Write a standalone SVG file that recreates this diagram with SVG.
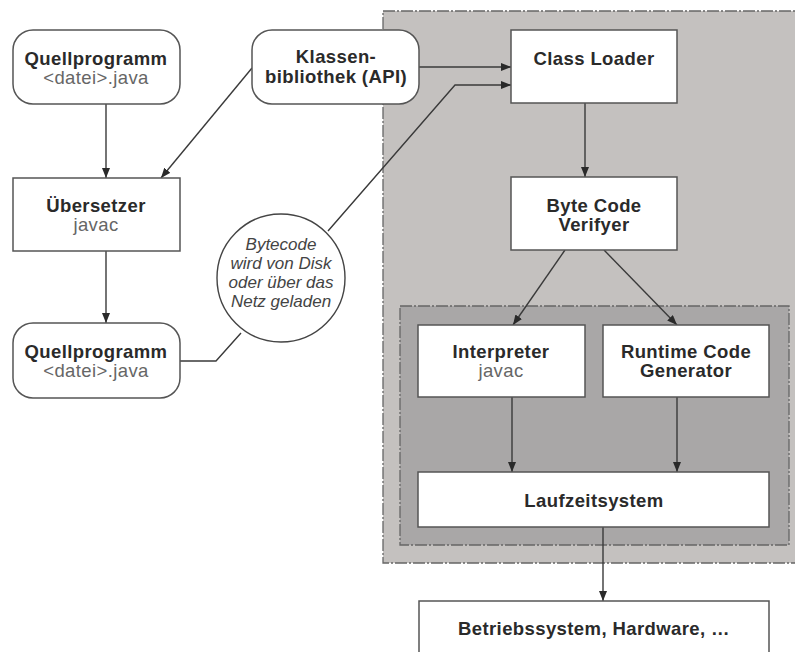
<svg xmlns="http://www.w3.org/2000/svg" width="795" height="652" viewBox="0 0 795 652">
<defs>
<style>
.box{fill:#fff;stroke:#555;stroke-width:1.5}
.b{font-family:"Liberation Sans",Arial,sans-serif;font-weight:bold;font-size:18.5px;letter-spacing:0.4px;fill:#2a2a2a;text-anchor:middle}
.r{font-family:"Liberation Sans",Arial,sans-serif;font-size:18.5px;letter-spacing:0.4px;fill:#666;text-anchor:middle}
.i{font-family:"Liberation Sans",Arial,sans-serif;font-style:italic;font-size:17px;fill:#444;text-anchor:middle}
.c{fill:none;stroke:#3a3a3a;stroke-width:1.4}
.reg{stroke:#666;stroke-width:1.3;stroke-dasharray:12 2 2 2}
</style>
<marker id="ah" viewBox="0 0 10 8" refX="10" refY="4" markerWidth="10" markerHeight="8" markerUnits="userSpaceOnUse" orient="auto">
<path d="M0,0 L10,4 L0,8 z" fill="#2a2a2a"/>
</marker>
</defs>
<rect width="795" height="652" fill="#fff"/>
<g id="jvm-region">
<rect x="383" y="11" width="420" height="552" fill="#c4c1bf" class="reg"/>
</g>
<g id="exec-region">
<rect x="400" y="306" width="389" height="239" fill="#a9a7a7" class="reg"/>
</g>
<g id="connectors">
<line class="c" x1="106" y1="104" x2="106" y2="178" marker-end="url(#ah)"/>
<line class="c" x1="106" y1="251" x2="106" y2="323" marker-end="url(#ah)"/>
<line class="c" x1="252" y1="68" x2="161" y2="178" marker-end="url(#ah)"/>
<line class="c" x1="419" y1="67" x2="511" y2="67" marker-end="url(#ah)"/>
<polyline class="c" points="180,361 216,361 241,333"/>
<polyline class="c" points="328,231 455,85 511,85" marker-end="url(#ah)"/>
<line class="c" x1="585" y1="103" x2="585" y2="177" marker-end="url(#ah)"/>
<line class="c" x1="565" y1="250" x2="513" y2="325" marker-end="url(#ah)"/>
<line class="c" x1="604" y1="250" x2="677" y2="325" marker-end="url(#ah)"/>
<line class="c" x1="512" y1="397" x2="512" y2="472" marker-end="url(#ah)"/>
<line class="c" x1="677" y1="397" x2="677" y2="472" marker-end="url(#ah)"/>
<line class="c" x1="603" y1="527" x2="603" y2="601" marker-end="url(#ah)"/>
</g>
<g id="quellprogramm1">
<rect class="box" x="13" y="30" width="167" height="74" rx="20"/>
<text class="b" x="96" y="65">Quellprogramm</text>
<text class="r" x="96" y="84">&lt;datei&gt;.java</text>
</g>
<g id="uebersetzer">
<rect class="box" x="13" y="178" width="167" height="73"/>
<text class="b" x="96" y="212">Übersetzer</text>
<text class="r" x="96" y="231">javac</text>
</g>
<g id="quellprogramm2">
<rect class="box" x="13" y="323" width="167" height="75" rx="20"/>
<text class="b" x="96" y="358">Quellprogramm</text>
<text class="r" x="96" y="377">&lt;datei&gt;.java</text>
</g>
<g id="klassenbibliothek">
<rect class="box" x="252" y="30" width="167" height="74" rx="20"/>
<text class="b" x="336" y="63">Klassen-</text>
<text class="b" x="336" y="83">bibliothek (API)</text>
</g>
<g id="bytecode-note">
<circle cx="281" cy="278" r="64" fill="#fff" stroke="#444" stroke-width="1.4"/>
<text class="i" x="281" y="250">Bytecode</text>
<text class="i" x="281" y="269">wird von Disk</text>
<text class="i" x="281" y="288">oder über das</text>
<text class="i" x="281" y="307">Netz geladen</text>
</g>
<g id="class-loader">
<rect class="box" x="511" y="30" width="166" height="73"/>
<text class="b" x="594" y="65">Class Loader</text>
</g>
<g id="byte-code-verifyer">
<rect class="box" x="511" y="177" width="166" height="73"/>
<text class="b" x="594" y="212">Byte Code</text>
<text class="b" x="594" y="231">Verifyer</text>
</g>
<g id="interpreter">
<rect class="box" x="418" y="325" width="167" height="72"/>
<text class="b" x="501" y="358">Interpreter</text>
<text class="r" x="501" y="377">javac</text>
</g>
<g id="runtime-code-generator">
<rect class="box" x="603" y="325" width="166" height="72"/>
<text class="b" x="686" y="358">Runtime Code</text>
<text class="b" x="686" y="377">Generator</text>
</g>
<g id="laufzeitsystem">
<rect class="box" x="418" y="472" width="351" height="55"/>
<text class="b" x="594" y="507">Laufzeitsystem</text>
</g>
<g id="betriebssystem">
<rect class="box" x="419" y="601" width="350" height="60"/>
<text class="b" x="594" y="635">Betriebssystem, Hardware, …</text>
</g>
</svg>
